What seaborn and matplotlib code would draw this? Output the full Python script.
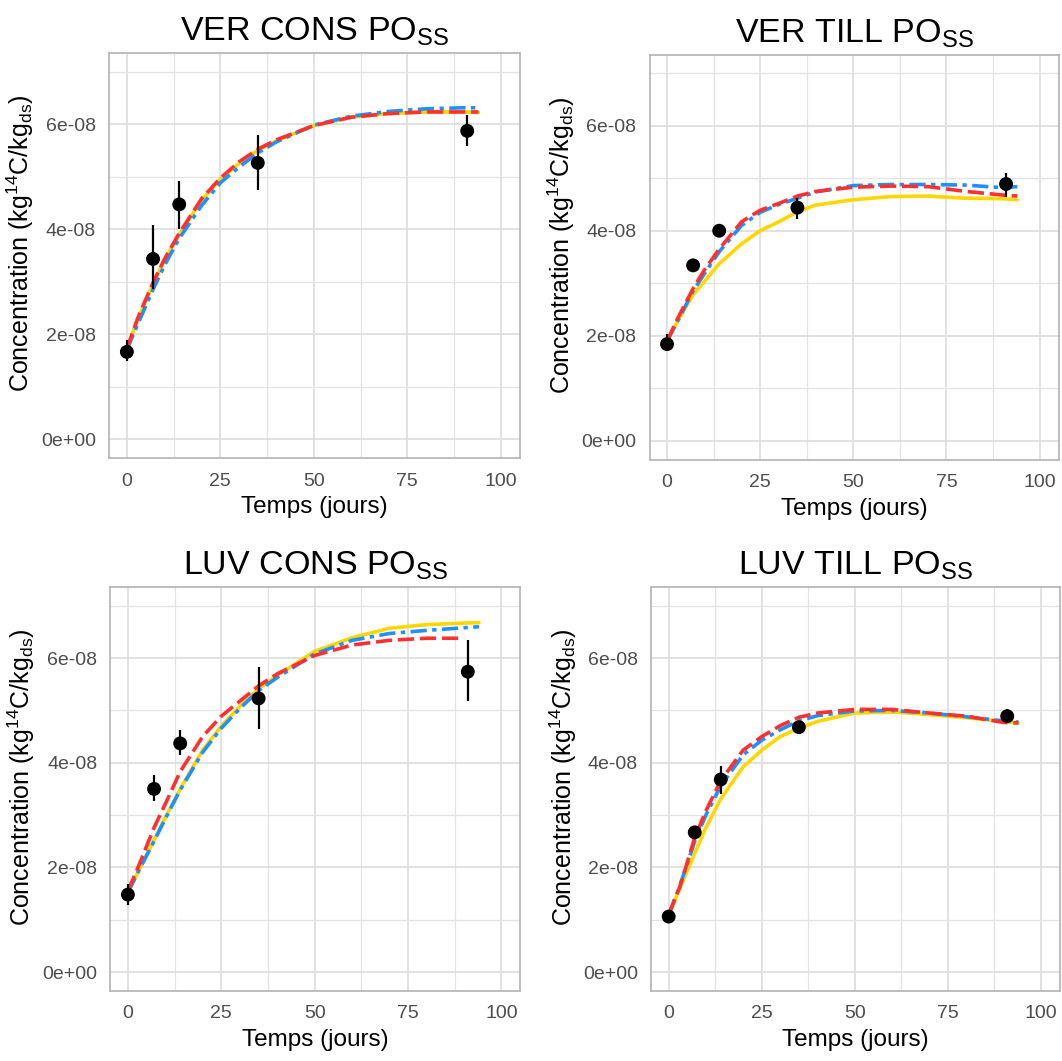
import pandas as pd
import numpy as np
import matplotlib.pyplot as plt
import matplotlib.ticker as mticker
import seaborn as sns

# Panels
panels = ['VER CONS', 'VER TILL', 'LUV CONS', 'LUV TILL']

# Observations (days) and measured concentrations (x 1e-8)
t_obs = [0, 7, 14, 35, 91]
obs_mean = {
    'VER CONS': [1.66, 3.43, 4.47, 5.26, 5.87],
    'VER TILL': [1.84, 3.34, 4.00, 4.44, 4.89],
    'LUV CONS': [1.48, 3.50, 4.37, 5.23, 5.74],
    'LUV TILL': [1.06, 2.67, 3.68, 4.68, 4.89],
}
obs_low = {
    'VER CONS': [1.49, 2.85, 4.01, 4.75, 5.58],
    'VER TILL': [1.71, 3.29, 3.88, 4.23, 4.65],
    'LUV CONS': [1.29, 3.26, 4.15, 4.65, 5.18],
    'LUV TILL': [1.00, 2.55, 3.40, 4.56, 4.79],
}
obs_high = {
    'VER CONS': [1.88, 4.07, 4.91, 5.80, 6.17],
    'VER TILL': [2.03, 3.39, 4.13, 4.62, 5.10],
    'LUV CONS': [1.69, 3.76, 4.63, 5.83, 6.34],
    'LUV TILL': [1.12, 2.78, 3.93, 4.79, 5.02],
}

# Simulated curves (x 1e-8)
t_sim = [0, 3, 7, 10, 14, 20, 25, 30, 35, 40, 50, 60, 70, 80, 90, 94]
sim_yellow = {
    'VER CONS': [1.72, 2.30, 2.95, 3.40, 3.90, 4.55, 4.95, 5.25, 5.50, 5.68, 5.97, 6.13, 6.20, 6.23, 6.23, 6.22],
    'VER TILL': [1.90, 2.30, 2.78, 3.03, 3.37, 3.75, 4.00, 4.17, 4.36, 4.49, 4.59, 4.65, 4.66, 4.62, 4.61, 4.59],
    'LUV CONS': [1.53, 1.95, 2.52, 2.95, 3.50, 4.24, 4.70, 5.08, 5.41, 5.67, 6.13, 6.39, 6.57, 6.64, 6.67, 6.68],
    'LUV TILL': [1.08, 1.60, 2.27, 2.76, 3.31, 3.92, 4.24, 4.50, 4.66, 4.79, 4.95, 4.97, 4.92, 4.86, 4.79, 4.76],
}
sim_blue = {
    'VER CONS': [1.70, 2.20, 2.85, 3.30, 3.82, 4.45, 4.88, 5.18, 5.45, 5.66, 5.98, 6.15, 6.24, 6.29, 6.31, 6.31],
    'VER TILL': [1.90, 2.30, 2.85, 3.18, 3.60, 4.10, 4.35, 4.50, 4.62, 4.74, 4.86, 4.88, 4.88, 4.87, 4.82, 4.84],
    'LUV CONS': [1.52, 1.95, 2.50, 2.93, 3.48, 4.20, 4.66, 5.04, 5.38, 5.63, 6.08, 6.34, 6.47, 6.53, 6.58, 6.60],
    'LUV TILL': [1.10, 1.65, 2.50, 3.00, 3.56, 4.15, 4.43, 4.63, 4.80, 4.90, 4.99, 5.00, 4.95, 4.88, 4.80, 4.78],
}
sim_red = {
    'VER CONS': [1.72, 2.32, 2.98, 3.42, 3.92, 4.58, 4.97, 5.28, 5.52, 5.70, 5.97, 6.13, 6.20, 6.23, 6.23, 6.23],
    'VER TILL': [1.90, 2.35, 2.90, 3.25, 3.65, 4.17, 4.39, 4.52, 4.66, 4.75, 4.83, 4.85, 4.84, 4.75, 4.68, 4.66],
    'LUV CONS': [1.55, 2.05, 2.76, 3.21, 3.83, 4.50, 4.89, 5.18, 5.47, 5.70, 6.05, 6.25, 6.34, 6.38, 6.38, np.nan],
    'LUV TILL': [1.10, 1.63, 2.57, 3.08, 3.66, 4.24, 4.50, 4.71, 4.87, 4.95, 5.02, 5.02, 4.95, 4.89, 4.77, 4.76],
}

rows = []
for p in panels:
    for name, src in [('yellow', sim_yellow), ('blue', sim_blue), ('red', sim_red)]:
        for t, v in zip(t_sim, src[p]):
            rows.append({'panel': p, 'model': name, 'time': t, 'conc': v * 1e-8})
df_sim = pd.DataFrame(rows).dropna()

obs_rows = []
for p in panels:
    for t, m, lo, hi in zip(t_obs, obs_mean[p], obs_low[p], obs_high[p]):
        obs_rows.append({'panel': p, 'time': t, 'conc': m * 1e-8, 'lo': lo * 1e-8, 'hi': hi * 1e-8})
df_obs = pd.DataFrame(obs_rows)

sns.set_style('white')
plt.rcParams['font.family'] = ['Liberation Sans', 'DejaVu Sans']
plt.rcParams['mathtext.default'] = 'regular'

palette = {'yellow': '#FFD700', 'blue': '#1E90FF', 'red': '#FF3030'}
dashes = {'yellow': '', 'blue': (4.5, 1.5, 1.2, 1.5), 'red': (4.5, 1.6)}

fig = plt.figure(figsize=(10.62, 10.61), dpi=100)
positions = [
    [0.1029, 0.5684, 0.3867, 0.3815],
    [0.6116, 0.5668, 0.3852, 0.3815],
    [0.1039, 0.0661, 0.3862, 0.3802],
    [0.6132, 0.0661, 0.3846, 0.3802],
]

for p, pos in zip(panels, positions):
    ax = fig.add_axes(pos)
    sub = df_sim[df_sim['panel'] == p]
    sns.lineplot(data=sub, x='time', y='conc', hue='model', style='model',
                 palette=palette, dashes=dashes, linewidth=2.6, legend=False,
                 ax=ax, zorder=3)
    o = df_obs[df_obs['panel'] == p]
    ax.vlines(o['time'], o['lo'], o['hi'], color='black', linewidth=1.6, zorder=4)
    sns.scatterplot(data=o, x='time', y='conc', color='black', s=100,
                    edgecolor='none', ax=ax, zorder=5)

    ax.set_xlim(-4.7, 105.1)
    ax.set_ylim(-0.36e-8, 7.35e-8)
    ax.set_xticks([0, 25, 50, 75, 100])
    ax.set_yticks([0, 2e-8, 4e-8, 6e-8])
    ax.xaxis.set_minor_locator(mticker.FixedLocator([12.5, 37.5, 62.5, 87.5]))
    ax.yaxis.set_minor_locator(mticker.FixedLocator([1e-8, 3e-8, 5e-8, 7e-8]))
    ax.yaxis.set_major_formatter(mticker.FuncFormatter(lambda v, pos: f'{v:.0e}'))
    ax.grid(which='major', color='#DEDEDE', linewidth=1.3)
    ax.grid(which='minor', color='#E3E3E3', linewidth=0.9)
    ax.set_axisbelow(True)
    ax.tick_params(axis='both', which='major', length=4.5, width=1, color='#B3B3B3',
                   labelsize=14, labelcolor='#4D4D4D', pad=5)
    ax.tick_params(axis='x', which='major', pad=6)
    ax.tick_params(axis='both', which='minor', length=0)
    for s in ax.spines.values():
        s.set_color('#B3B3B3')
        s.set_linewidth(1.2)
    ax.set_title(p + ' PO$_{SS}$', fontsize=24.5, pad=9, color='black')
    ax.set_xlabel('Temps (jours)', fontsize=17.5, labelpad=5, color='black')
    ax.set_ylabel('Concentration (kg$^{14}$C/kg$_{ds}$)', fontsize=18, color='black')
    ax.yaxis.set_label_coords(-0.178, 0.53)

fig.savefig('out.png', dpi=100)
